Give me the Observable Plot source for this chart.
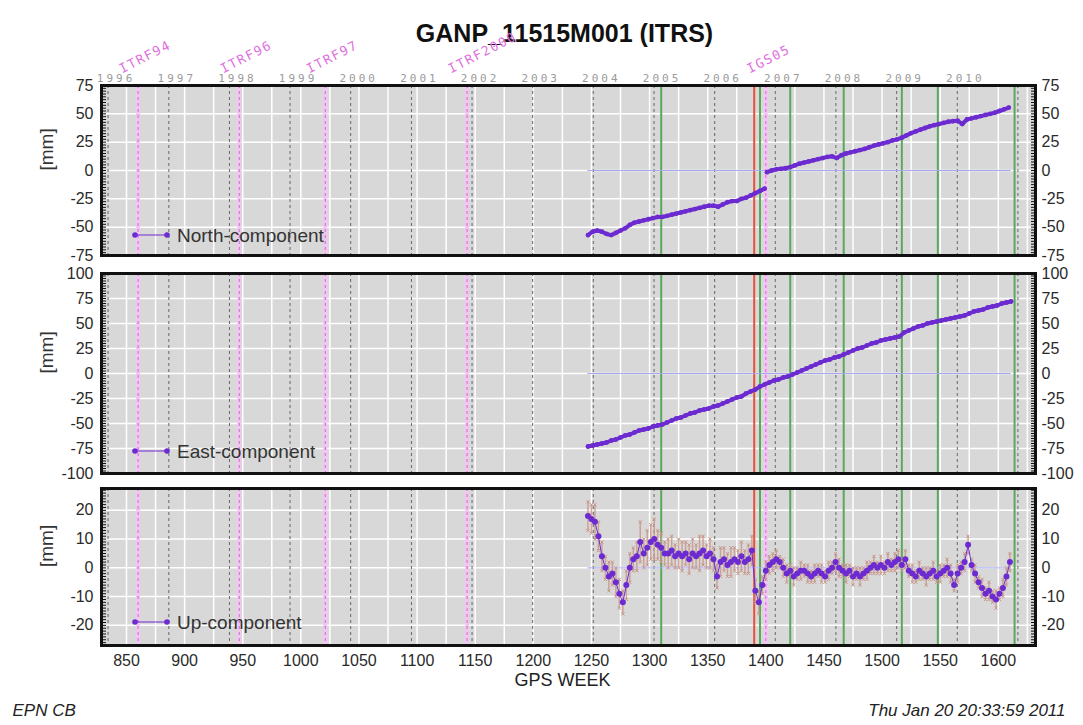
<!DOCTYPE html>
<html><head><meta charset="utf-8">
<script src="https://cdn.jsdelivr.net/npm/d3@7"></script>
<script src="https://cdn.jsdelivr.net/npm/@observablehq/plot@0.6"></script>
<style>
body{margin:0;background:#fff;}
#chart{width:1083px;height:725px;position:relative;overflow:hidden;}
#chart svg{display:block;}
</style></head><body><div id="chart"></div>
<script>
// ---------------- data ----------------
const title = "GANP_11515M001 (ITRS)";
const xTicks = [850,900,950,1000,1050,1100,1150,1200,1250,1300,1350,1400,1450,1500,1550,1600];
const yearLabels = [1996,1997,1998,1999,2000,2001,2002,2003,2004,2005,2006,2007,2008,2009,2010];
const yearLines = [1996,1997,1998,1999,2000,2001,2002,2003,2004,2005,2006,2007,2008,2009,2010,2011];
const frameNames = ["ITRF94","ITRF96","ITRF97","ITRF2000","IGS05"];
const frameWeeks = [860, 947, 1021, 1143, 1400];
const greenWeeks = [1310, 1395, 1421, 1467, 1517, 1548, 1614];
const redWeeks = [1390];

const northWeeks = [...d3.range(1247, 1400, 4), 1400, ...d3.range(1401, 1610, 4)];
const northMM = [-57,-54,-53,-54,-56,-57,-55,-53,-51,-48,-46,-45,-44,-43,-42,-41,-41,-40,-39,-38,
  -37,-36,-35,-34,-33,-32,-31,-31,-32,-30,-28,-27,-27,-25,-24,-22,-20,-18,-16,
  null,
  -1.5,0,1,1.5,2,3,4.5,6,7,8,9,10,11,12,12.5,11,13.5,15,16,17,18,19,20.5,22,23,24,25,26.5,27.5,29,
  31,33,34.5,36,37.5,39,40,41,42,43,43.5,44,41,45,46,47,48,49,50,51,52.5,54,55.5];

const eastWeeks = d3.range(1247, 1612, 4);
const eastMM = [-73,-72,-71,-70,-69,-67,-66,-64,-62,-61,-59,-57,-56,-55,-53,-52,-51,-49,-47,-45,
  -44,-42,-40,-39,-37,-36,-35,-33,-32,-30,-28,-26,-24,-23,-20,-18,-16,-13,-11,-9,
  -7,-6,-4,-3,-1,1,3,5,7,9,11,13,14,16,17,19,21,23,25,26,28,30,31,33,34,35,36,37,41,43,
  45,47,48,50,51,52,53,54,55,56,57,58,60,62,63,64,66,67,68,70,71,72];

const upWeeks = d3.range(1247, 1611, 3);
const upMM = [18,17,16,11,4,0,-3,-2,-5,-9, -12,-6,0,3,4,9,5,7,9,10, 8,7,5,5,6,4,5,4,5,3,
  5,4,5,6,4,5,3,-3,2,3, 1,2,3,2,4,2,3,6,-8,-12, -6,-1,1,2,3,2,0,-2,-1,-3,
  -2,-1,-1,-2,-3,-2,-1,-2,-3,-1, 0,2,0,-1,-2,-1,-3,-2,-3,-2, -1,0,1,0,1,0,2,1,2,3,
  1,3,-1,-2,-3,-1,-2,-3,-2,-1, -3,-2,-1,0,-2,-6,-2,0,2,8, 1,-2,-5,-7,-9,-8,-10,-11,-9,-7, -3,2];
const upErr = [5,5,6,5,5,4,5,4,5,5, 4,5,5,4,5,7,5,6,6,7, 5,5,4,5,5,4,5,5,4,5, 5,4,6,5,4,5,4,4,5,4,
  4,5,4,4,5,4,5,5,4,4, 3,3,3,3,3,2,3,3,2,3, 2,3,2,3,2,3,2,3,2,3, 2,3,3,2,3,2,3,2,3,2,
  3,2,3,2,3,2,3,2,3,3, 2,3,2,3,2,3,2,3,2,3, 2,3,2,3,3,2,3,2,3,3, 2,3,2,3,2,3,2,3,2,3, 3,3];

// ---------------- helpers ----------------
const PURPLE = "#6c2bd0";
const FONT = "Liberation Sans, Arial, Helvetica, sans-serif";
const gpsWeekOfJan1 = y => (Date.UTC(y, 0, 1) - Date.UTC(1980, 0, 6)) / 6048e5;
const north = northWeeks.map((w, i) => ({week: w, mm: northMM[i]}));
const east = eastWeeks.map((w, i) => ({week: w, mm: eastMM[i]}));
const up = upWeeks.map((w, i) => ({week: w, mm: upMM[i], err: upErr[i]}));
const dataStart = d3.min(upWeeks), dataEnd = d3.max(eastWeeks);
const xDomain = [828.5, 1632];
const W = 1083, ML = 101, MR = 48;
const fmt = d => String(d);

function legendMark(label, offset) {
  return (index, scales, values, dims) => {
    const y = dims.height - dims.marginBottom + offset;
    const x1 = dims.marginLeft + 34, x2 = dims.marginLeft + 66;
    const g = d3.create("svg:g");
    g.append("line").attr("x1", x1).attr("x2", x2).attr("y1", y).attr("y2", y)
      .attr("stroke", PURPLE).attr("stroke-width", 1);
    for (const x of [x1, x2]) g.append("circle").attr("cx", x).attr("cy", y).attr("r", 2.8).attr("fill", PURPLE);
    g.append("text").attr("x", dims.marginLeft + 76).attr("y", y).attr("dy", "0.35em")
      .attr("text-anchor", "start")
      .attr("font-size", 19).attr("fill", "#333").attr("font-family", FONT).text(label);
    return g.node();
  };
}

function vlines() {
  return [
    Plot.ruleX(yearLines.map(gpsWeekOfJan1), {stroke: "#666", strokeWidth: 1, strokeDasharray: "3,3"}),
    Plot.ruleX(frameWeeks, {stroke: "#f2c6f2", strokeWidth: 4}),
    Plot.ruleX(frameWeeks, {stroke: "#d466d4", strokeWidth: 1, strokeDasharray: "3,3"}),
    Plot.ruleX(greenWeeks, {stroke: "#5aa85a", strokeWidth: 2}),
    Plot.ruleX(redWeeks, {stroke: "#e8503a", strokeWidth: 2})
  ];
}

function yAxes(ticks, minor) {
  return [
    Plot.axisY({anchor: "left", ticks: minor, tickSize: 5, dx: 5, tickFormat: () => "", label: null, stroke: "#111"}),
    Plot.axisY({anchor: "right", ticks: minor, tickSize: 5, dx: -5, tickFormat: () => "", label: null, stroke: "#111"}),
    Plot.axisY({anchor: "left", ticks, tickSize: 0, tickPadding: 8, fontSize: 16, label: null, tickFormat: fmt, fill: "#2a2a2a"}),
    Plot.axisY({anchor: "right", ticks, tickSize: 0, tickPadding: 6, fontSize: 16, label: null, tickFormat: fmt, fill: "#2a2a2a"}),
    Plot.text(["[mm]"], {text: d => d, frameAnchor: "left", dx: -55, rotate: -90, fontSize: 19, fill: "#333"})
  ];
}

function panel({height, marginTop, marginBottom, yDomain, ticks, minor, series, legend, legendOffset, extra = [], top = []}) {
  const isUp = series === up;
  const errMarks = isUp ? [
    Plot.ruleX(series, {x: "week", y1: d => d.mm - d.err, y2: d => d.mm + d.err, stroke: "#c9968a", strokeWidth: 1.5, strokeOpacity: 0.85}),
    Plot.dot(series, {x: "week", y: d => d.mm + d.err, symbol: "times", r: 1.6, stroke: "#c9968a", strokeWidth: 1}),
    Plot.dot(series, {x: "week", y: d => d.mm - d.err, symbol: "times", r: 1.6, stroke: "#c9968a", strokeWidth: 1})
  ] : [];
  const marks = [
    Plot.frame({fill: "#d8d8d8"}),
    Plot.ruleX(d3.range(850, 1632, 25), {stroke: "white", strokeWidth: 1.5}),
    Plot.ruleY(ticks, {stroke: "white", strokeWidth: 1.5}),
    ...vlines(),
    Plot.ruleY([0], {x1: dataStart, x2: dataEnd, stroke: "#a6a6f2", strokeWidth: 1}),
    ...errMarks,
    Plot.line(series, {x: "week", y: "mm", stroke: PURPLE, strokeWidth: isUp ? 1 : 4}),
    Plot.dot(series, {x: "week", y: "mm", r: isUp ? 3 : 2.4, fill: PURPLE}),
    legendMark(legend, legendOffset),
    Plot.frame({stroke: "#111", strokeWidth: 3}),
    ...yAxes(ticks, minor),
    ...top,
    ...extra
  ];
  return Plot.plot({
    width: W, height, marginLeft: ML, marginRight: MR, marginTop, marginBottom,
    x: {domain: xDomain, axis: null},
    y: {domain: yDomain, axis: null},
    style: {fontFamily: FONT, fontSize: "16px", color: "#2a2a2a", background: "transparent", overflow: "visible"},
    marks
  });
}

const topMarks = [
  Plot.text([title], {text: d => d, frameAnchor: "top", dy: -61, dx: -4, fontSize: 25, fontWeight: "bold", fill: "#111"}),
  Plot.text(yearLabels, {x: gpsWeekOfJan1, text: d => String(d), frameAnchor: "top", dy: -11, dx: 8,
    fontFamily: "DejaVu Sans Mono, monospace", fontSize: 11, fill: "#9a9a9a"}),
  Plot.text(frameNames, {x: (d, i) => frameWeeks[i], text: d => d, frameAnchor: "top", dy: -12, dx: -16,
    rotate: -27, textAnchor: "start", lineAnchor: "bottom",
    fontFamily: "DejaVu Sans Mono, monospace", fontSize: 13, fill: "#e070e0"})
];

const bottomMarks = [
  Plot.axisX({anchor: "bottom", ticks: xTicks, tickSize: 0, tickPadding: 9, fontSize: 16, label: null, tickFormat: fmt, fill: "#2a2a2a"}),
  Plot.text(["GPS WEEK"], {text: d => d, frameAnchor: "bottom", dy: 40, dx: -6, fontSize: 18, fill: "#222"}),
  Plot.text(["EPN CB"], {text: d => d, frameAnchor: "bottom-left", dx: -89, dy: 70, textAnchor: "start", fontSize: 17, fontStyle: "italic", fill: "#222"}),
  Plot.text(["Thu Jan 20 20:33:59 2011"], {text: d => d, frameAnchor: "bottom-right", dx: 30, dy: 70, textAnchor: "end", fontSize: 17, fontStyle: "italic", fill: "#222"})
];

const chart = document.getElementById("chart");
chart.append(panel({height: 264, marginTop: 85, marginBottom: 9, yDomain: [-75, 75],
  ticks: [-75,-50,-25,0,25,50,75], minor: d3.range(-75, 75.1, 2.5),
  series: north, legend: "North-component", legendOffset: -20, top: topMarks}));
chart.append(panel({height: 216, marginTop: 9, marginBottom: 7, yDomain: [-100, 100],
  ticks: [-100,-75,-50,-25,0,25,50,75,100], minor: d3.range(-100, 100.1, 2.5),
  series: east, legend: "East-component", legendOffset: -22}));
chart.append(panel({height: 245, marginTop: 8, marginBottom: 80, yDomain: [-27, 27.6],
  ticks: [-20,-10,0,10,20], minor: d3.range(-27, 27.6, 1),
  series: up, legend: "Up-component", legendOffset: -23, extra: bottomMarks}));

// letter spacing for the wide-set header labels
const yearSet = new Set(yearLabels.map(String)), frameSet = new Set(frameNames);
d3.selectAll("#chart svg text").each(function() {
  const t = this.textContent;
  if (yearSet.has(t)) this.style.letterSpacing = "3px";
  else if (frameSet.has(t)) this.style.letterSpacing = "1.5px";
});
</script>
</body></html>
